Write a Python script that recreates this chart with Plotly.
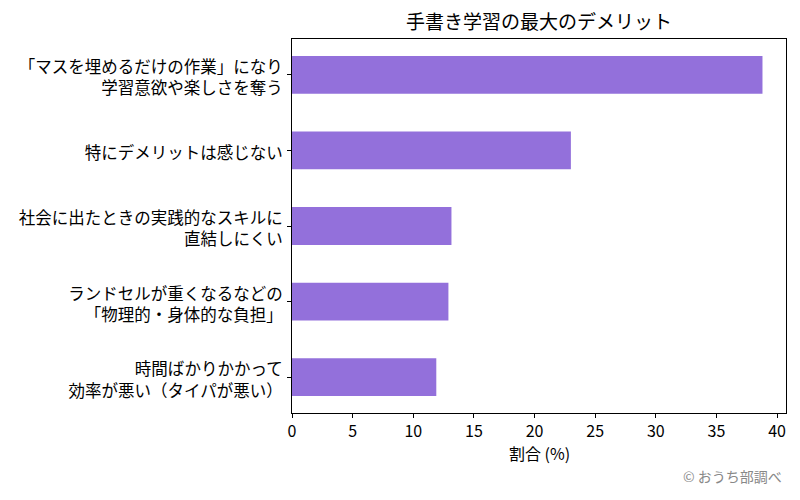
import plotly.graph_objects as go

categories = [
    "「マスを埋めるだけの作業」になり<br>学習意欲や楽しさを奪う",
    "特にデメリットは感じない",
    "社会に出たときの実践的なスキルに<br>直結しにくい",
    "ランドセルが重くなるなどの<br>「物理的・身体的な負担」",
    "時間ばかりかかって<br>効率が悪い（タイパが悪い）",
]
values = [38.8, 23.0, 13.15, 12.9, 11.9]
x_ticks = [0, 5, 10, 15, 20, 25, 30, 35, 40]

FONT = "Noto Sans CJK JP"

fig = go.Figure(
    go.Bar(
        x=values,
        y=categories,
        orientation="h",
        width=0.5,
        marker=dict(color="#9370DB", line=dict(width=0)),
    )
)

W, H = 800, 500
L, R, T, B = 292, 14, 39, 87

fig.update_layout(
    width=W,
    height=H,
    margin=dict(l=L, r=R, t=T, b=B, autoexpand=False),
    paper_bgcolor="white",
    plot_bgcolor="white",
    font=dict(family=FONT, size=16, color="black"),
    showlegend=False,
    title=dict(
        text="手書き学習の最大のデメリット",
        font=dict(family=FONT, size=19, color="black"),
        x=(292 + 786) / 2 / W,
        xanchor="center",
        xref="container",
        y=1 - 22 / H,
        yanchor="middle",
        yref="container",
    ),
    xaxis=dict(
        range=[0, 40.74],
        tickmode="array",
        tickvals=x_ticks,
        ticks="outside",
        ticklen=4,
        tickcolor="black",
        showline=True,
        linecolor="black",
        linewidth=1,
        mirror=True,
        showgrid=False,
        zeroline=False,
        tickfont=dict(size=16),
    ),
    yaxis=dict(
        type="category",
        categoryorder="array",
        categoryarray=categories,
        range=[4.475, -0.475],
        ticks="outside",
        ticklen=4,
        tickcolor="black",
        showline=True,
        linecolor="black",
        linewidth=1,
        mirror=True,
        showgrid=False,
        zeroline=False,
        ticklabelstandoff=1,
        ticklabelshift=-3,
        tickfont=dict(size=16.5),
    ),
    annotations=[
        dict(
            text="割合 (%)",
            xref="paper",
            yref="paper",
            x=0.5,
            y=0,
            yshift=-(453 - 413),
            xanchor="center",
            yanchor="middle",
            showarrow=False,
            font=dict(family=FONT, size=16, color="black"),
        ),
        dict(
            text="© おうち部調べ",
            xref="paper",
            yref="paper",
            x=1,
            y=0,
            xshift=-2,
            yshift=-(476 - 413),
            xanchor="right",
            yanchor="middle",
            showarrow=False,
            font=dict(family=FONT, size=14, color="#888888"),
        ),
    ],
)

fig.write_html("out.html")
